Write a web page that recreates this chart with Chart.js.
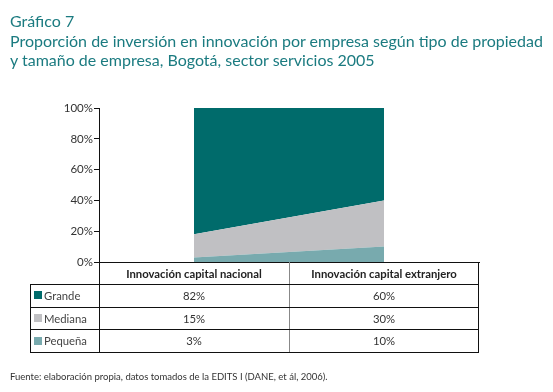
<!DOCTYPE html>
<html><head><meta charset="utf-8">
<script src="https://cdn.jsdelivr.net/npm/chart.js@4/dist/chart.umd.min.js"></script>
<style>
html,body{margin:0;padding:0;background:#fff;width:553px;height:392px;overflow:hidden;}
#wrap{position:relative;width:553px;height:392px;}
canvas{position:absolute;left:0;top:0;}
#title{position:absolute;left:10px;top:11px;color:#1b7b80;font-family:Lato,"Open Sans",sans-serif;font-size:16px;line-height:19.5px;}
#src{position:absolute;left:10px;top:371px;color:#333;font-family:Lato,"Open Sans",sans-serif;font-size:9.5px;}
</style></head><body>
<div id="wrap">
<canvas id="c" width="553" height="392"></canvas>
<div id="title">Gráfico 7<br>Proporción de inversión en innovación por empresa según tipo de propiedad<br>y tamaño de empresa, Bogotá, sector servicios 2005</div>
<div id="src">Fuente: elaboración propia, datos tomados de la EDITS I (DANE, et ál, 2006).</div>
</div>
<script>
const categories = ["Innovación capital nacional", "Innovación capital extranjero"];
const grande = [82, 60];
const mediana = [15, 30];
const pequena = [3, 10];
const seriesNames = ["Grande", "Mediana", "Pequeña"];
const seriesColors = ["#006b6b", "#c0c0c3", "#78aaae"];
const yTicks = [0, 20, 40, 60, 80, 100];

const FONT = 'Lato, "Open Sans", sans-serif';

const tablePlugin = {
  id: 'dataTable',
  afterDraw(chart) {
    const ctx = chart.ctx;
    const xs = chart.scales.x;
    const area = chart.chartArea;
    const left = 30, right = area.right, axisX = area.left;
    const top = area.bottom;
    const headerH = 22, rowH = 22.7;
    const rows = [grande, mediana, pequena];
    const bottom = top + headerH + rowH * rows.length;
    const mid = (xs.getPixelForValue(0) + xs.getPixelForValue(1)) / 2;
    ctx.save();
    ctx.lineWidth = 1;
    ctx.strokeStyle = '#888';
    ctx.beginPath(); ctx.moveTo(Math.round(mid)+0.5, top); ctx.lineTo(Math.round(mid)+0.5, bottom); ctx.stroke();
    ctx.strokeStyle = '#111';
    ctx.beginPath();
    ctx.moveTo(axisX+0.5, top); ctx.lineTo(axisX+0.5, bottom);
    ctx.moveTo(right-0.5, top); ctx.lineTo(right-0.5, bottom);
    ctx.moveTo(left+0.5, top+headerH); ctx.lineTo(left+0.5, bottom);
    for (let i = 0; i <= rows.length; i++) {
      const y = Math.round(top + headerH + rowH * i) + 0.5;
      ctx.moveTo(left, y); ctx.lineTo(right, y);
    }
    ctx.stroke();
    ctx.fillStyle = '#222';
    ctx.textAlign = 'center'; ctx.textBaseline = 'middle';
    ctx.font = 'bold 11.3px ' + FONT;
    categories.forEach((c, i) => ctx.fillText(c, xs.getPixelForValue(i), top + headerH/2 + 1));
    ctx.font = '11.3px ' + FONT;
    rows.forEach((r, ri) => {
      const cy = top + headerH + rowH * ri + rowH/2 + 1;
      r.forEach((v, i) => { ctx.fillStyle = '#333'; ctx.textAlign='center'; ctx.fillText(v + '%', xs.getPixelForValue(i), cy); });
      ctx.fillStyle = seriesColors[ri];
      ctx.fillRect(left + 4, Math.round(cy) - 5, 8, 8);
      ctx.fillStyle = '#444'; ctx.textAlign = 'left';
      ctx.fillText(seriesNames[ri], left + 14, cy);
    });
    ctx.restore();
  }
};

new Chart(document.getElementById('c'), {
  type: 'line',
  data: {
    labels: categories,
    datasets: [
      { label: seriesNames[2], data: pequena, backgroundColor: seriesColors[2], fill: 'origin' },
      { label: seriesNames[1], data: mediana, backgroundColor: seriesColors[1], fill: '-1' },
      { label: seriesNames[0], data: grande, backgroundColor: seriesColors[0], fill: '-1' }
    ].map(d => Object.assign(d, { borderWidth: 0, pointRadius: 0, tension: 0, borderColor: 'rgba(0,0,0,0)' }))
  },
  options: {
    responsive: false,
    animation: false,
    layout: { padding: { left: 30, top: 108, right: 74, bottom: 130 } },
    plugins: { legend: { display: false }, tooltip: { enabled: false } },
    scales: {
      x: {
        offset: true,
        grid: { display: false, drawTicks: false },
        border: { display: true, color: '#111', width: 1 },
        ticks: { display: false },
        afterFit: s => { s.height = 0; }
      },
      y: {
        stacked: true,
        min: 0, max: 100,
        afterBuildTicks: s => { s.ticks = yTicks.map(v => ({ value: v })); },
        afterFit: s => { s.width = 69; },
        grid: { display: true, drawOnChartArea: false, drawTicks: true, tickLength: 5, color: '#111' },
        border: { display: true, color: '#111', width: 1 },
        ticks: { color: '#333', font: { family: FONT, size: 11.5 }, padding: 1, callback: v => v + '%' }
      }
    }
  },
  plugins: [tablePlugin]
});
</script>
</body></html>
